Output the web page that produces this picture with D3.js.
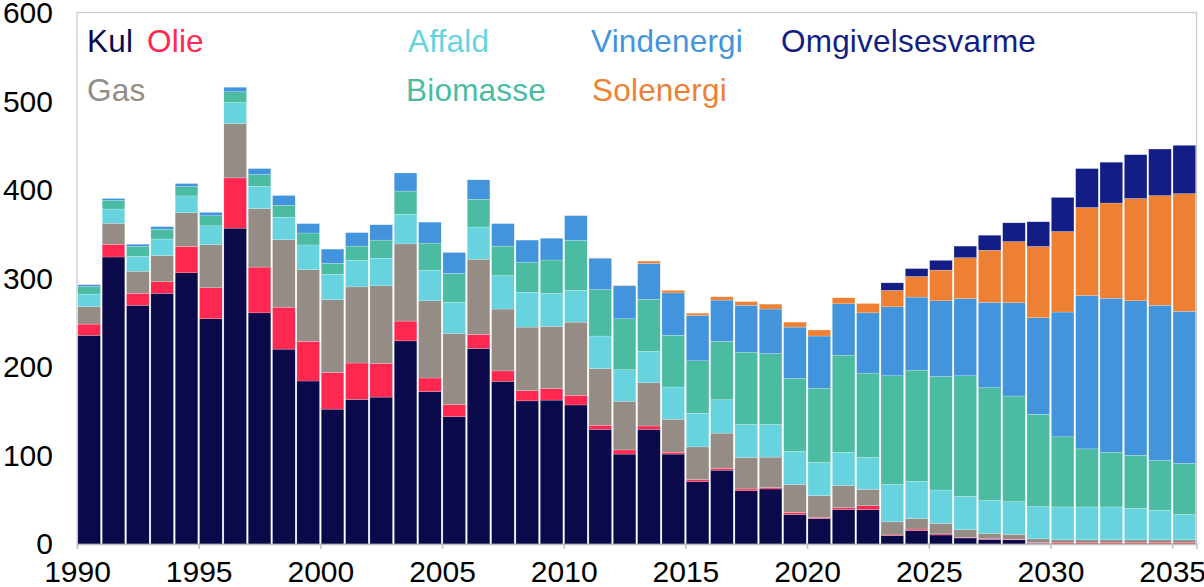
<!DOCTYPE html>
<html>
<head>
<meta charset="utf-8">
<script src="https://cdn.jsdelivr.net/npm/d3@7"></script>
<style>
  html, body { margin: 0; padding: 0; background: #fff; }
  svg { display: block; font-family: "Liberation Sans", Arial, sans-serif; }
</style>
</head>
<body>
<script>
// data (PJ), 1990-2035
const years = d3.range(1990, 2036);
const keys = ["Kul", "Olie", "Gas", "Affald", "Biomasse", "Vindenergi", "Solenergi", "Omgivelsesvarme"];

const kul = [235.8, 324.3, 269.7, 283.3, 306.5, 254.5, 356.9, 261.2, 220.2, 184.2,
  152.4, 163.4, 166.0, 229.5, 172.3, 144.0, 221.0, 183.8, 161.7, 162.6,
  157.1, 129.6, 101.6, 129.6, 101.6, 70.7, 83.4, 60.1, 62.2, 33.4,
  28.8, 39.0, 39.0, 9.3, 15.2, 10.2, 6.8, 5.1, 4.7, 0.8,
  0, 0, 0, 0, 0, 0];
const olie = [12.7, 14.4, 13.6, 13.1, 29.7, 35.1, 56.8, 51.7, 47.4, 44.8,
  41.5, 41.1, 38.1, 22.4, 15.3, 13.5, 15.7, 11.8, 11.5, 13.1,
  11.0, 4.6, 4.7, 3.8, 2.1, 2.1, 2.1, 2.1, 1.7, 2.2,
  1.3, 2.1, 4.2, 0.9, 1.7, 1.2, 0.8, 0.8, 0.8, 0.9,
  1.3, 1.3, 1.3, 1.3, 1.3, 1.3];
const gas = [19.5, 23.7, 24.9, 29.6, 38.1, 48.7, 61.3, 66.1, 76.2, 80.9,
  82.1, 86.0, 87.6, 87.2, 87.2, 80.5, 85.1, 69.9, 71.9, 70.3,
  82.6, 64.0, 55.0, 48.7, 37.3, 36.9, 39.8, 35.6, 34.3, 31.7,
  24.5, 25.0, 18.6, 14.8, 11.9, 11.9, 8.5, 6.0, 5.5, 4.2,
  3.4, 3.4, 3.4, 3.4, 3.4, 3.4];
const affald = [14.4, 16.1, 17.0, 18.6, 19.0, 21.2, 23.8, 25.3, 25.4, 28.0,
  28.8, 30.0, 31.3, 33.5, 34.7, 35.1, 36.4, 37.7, 39.4, 37.2,
  35.9, 36.8, 35.6, 35.5, 36.4, 38.1, 37.7, 37.3, 36.9, 37.3,
  37.7, 37.6, 36.0, 42.3, 41.9, 37.7, 37.7, 37.2, 36.8, 36.4,
  37.2, 37.2, 37.2, 35.5, 33.4, 28.7];
const biomasse = [8.5, 9.8, 11.0, 11.1, 10.6, 11.4, 12.2, 13.2, 13.6, 13.5,
  12.3, 16.1, 20.4, 26.2, 30.5, 32.6, 31.3, 33.4, 33.5, 37.7,
  56.4, 52.5, 57.6, 58.9, 58.4, 59.2, 66.0, 81.7, 80.0, 82.5,
  83.8, 109.7, 95.3, 122.8, 125.8, 128.3, 136.3, 127.5, 119.4, 104.2,
  79.2, 65.6, 61.8, 60.1, 56.3, 57.6];
const vind = [2.1, 2.1, 2.5, 2.9, 3.4, 3.8, 5.1, 6.7, 11.0, 10.6,
  16.1, 15.2, 17.3, 20.4, 23.7, 23.7, 22.0, 25.4, 25.4, 24.6,
  27.9, 35.5, 37.2, 40.6, 47.9, 51.3, 46.6, 52.9, 50.4, 58.0,
  58.9, 58.0, 68.1, 77.9, 82.5, 85.5, 87.2, 96.5, 105.5, 109.2,
  141.0, 173.2, 174.0, 174.5, 175.3, 171.9];
const sol = [0, 0, 0, 0, 0, 0, 0, 0, 0, 0,
  0, 0, 0, 0, 0, 0, 0, 0, 0, 0,
  0.3, 0.3, 0.5, 2.6, 2.9, 2.5, 3.8, 4.2, 5.5, 5.6,
  6.8, 6.8, 10.6, 18.6, 23.3, 34.7, 46.2, 58.8, 69.0, 80.5,
  91.0, 99.5, 107.6, 115.6, 124.0, 133.0];
const omgivelse = [0, 0, 0, 0, 0, 0, 0, 0, 0, 0,
  0, 0, 0, 0, 0, 0, 0, 0, 0, 0,
  0, 0, 0, 0, 0, 0, 0, 0, 0, 0,
  0, 0, 0, 8.5, 8.9, 11.0, 13.1, 17.0, 21.2, 27.9,
  38.5, 44.0, 46.1, 49.5, 52.6, 54.6];

const yTicks = [0, 100, 200, 300, 400, 500, 600];
const xTicks = [1990, 1995, 2000, 2005, 2010, 2015, 2020, 2025, 2030, 2035];

const colors = {
  Kul: "#0a0a4a", Olie: "#ff2851", Gas: "#948c85", Affald: "#66d3de",
  Biomasse: "#4bbca2", Vindenergi: "#4294dc", Solenergi: "#ee8033", Omgivelsesvarme: "#121e85"
};

const w = 1204, h = 587;
const plotLeft = 77, plotRight = 1196.5, plotTop = 13, plotBottom = 544;

const rows = years.map((yr, i) => ({
  year: yr, Kul: kul[i], Olie: olie[i], Gas: gas[i], Affald: affald[i],
  Biomasse: biomasse[i], Vindenergi: vind[i], Solenergi: sol[i], Omgivelsesvarme: omgivelse[i]
}));

const series = d3.stack().keys(keys)(rows);

const x = d3.scaleBand()
  .domain(years)
  .range([plotLeft, plotRight])
  .paddingInner(0.07)
  .paddingOuter(0.035);

const xYear = d3.scaleLinear()
  .domain([1990, 2036])
  .range([plotLeft, plotRight]);

const y = d3.scaleLinear()
  .domain([0, 600])
  .range([plotBottom, plotTop]);

const svg = d3.select("body")
  .append("svg")
  .attr("width", w)
  .attr("height", h);

// plot frame
svg.append("rect")
  .attr("x", plotLeft)
  .attr("y", y(600) - 0.5)
  .attr("width", plotRight - plotLeft)
  .attr("height", plotBottom - y(600) + 0.5)
  .attr("fill", "none")
  .attr("stroke", "#c8c8c8")
  .attr("stroke-width", 1.2);

// bars
svg.append("g")
  .selectAll("g")
  .data(series)
  .enter()
  .append("g")
  .attr("fill", d => colors[d.key])
  .selectAll("rect")
  .data(d => d.filter(s => s[1] - s[0] > 0))
  .enter()
  .append("rect")
  .attr("x", d => x(d.data.year))
  .attr("y", d => y(d[1]))
  .attr("width", x.bandwidth())
  .attr("height", d => y(d[0]) - y(d[1]))
  .attr("stroke", "#ffffff")
  .attr("stroke-opacity", 0.5)
  .attr("stroke-width", 0.4);

// x axis
const xAxis = d3.axisBottom(xYear)
  .tickValues(xTicks)
  .tickSize(5)
  .tickPadding(12)
  .tickFormat(d3.format("d"));

const gx = svg.append("g")
  .attr("transform", "translate(0," + plotBottom + ")")
  .call(xAxis);
gx.select(".domain").attr("stroke", "#c0c0c0").attr("stroke-width", 1.5);
gx.selectAll(".tick line").attr("stroke", "#c0c0c0").attr("stroke-width", 1.5);
gx.selectAll("text")
  .attr("fill", "#000")
  .style("font-size", "30px")
  .style("font-family", "'Liberation Sans', Arial, sans-serif");

// y axis
const yAxis = d3.axisLeft(y)
  .tickValues(yTicks)
  .tickSize(0)
  .tickPadding(24);

const gy = svg.append("g")
  .attr("transform", "translate(" + plotLeft + ",0)")
  .call(yAxis);
gy.select(".domain").remove();
gy.selectAll("text")
  .attr("fill", "#000")
  .style("font-size", "30px")
  .style("font-family", "'Liberation Sans', Arial, sans-serif");

// legend, coloured labels inside the plot
const legendNames = ["Kul", "Olie", "Gas", "Affald", "Biomasse", "Vindenergi", "Solenergi", "Omgivelsesvarme"];
const legendX = [87, 147, 87, 408, 406, 591, 592, 781];
const legendY = [52, 52, 101, 52, 101, 52, 101, 52];

svg.append("g")
  .selectAll("text")
  .data(legendNames)
  .enter()
  .append("text")
  .attr("x", (d, i) => legendX[i])
  .attr("y", (d, i) => legendY[i])
  .attr("fill", d => colors[d])
  .style("font-size", "31.5px")
  .style("letter-spacing", "0.2px")
  .text(d => d);
</script>
</body>
</html>
